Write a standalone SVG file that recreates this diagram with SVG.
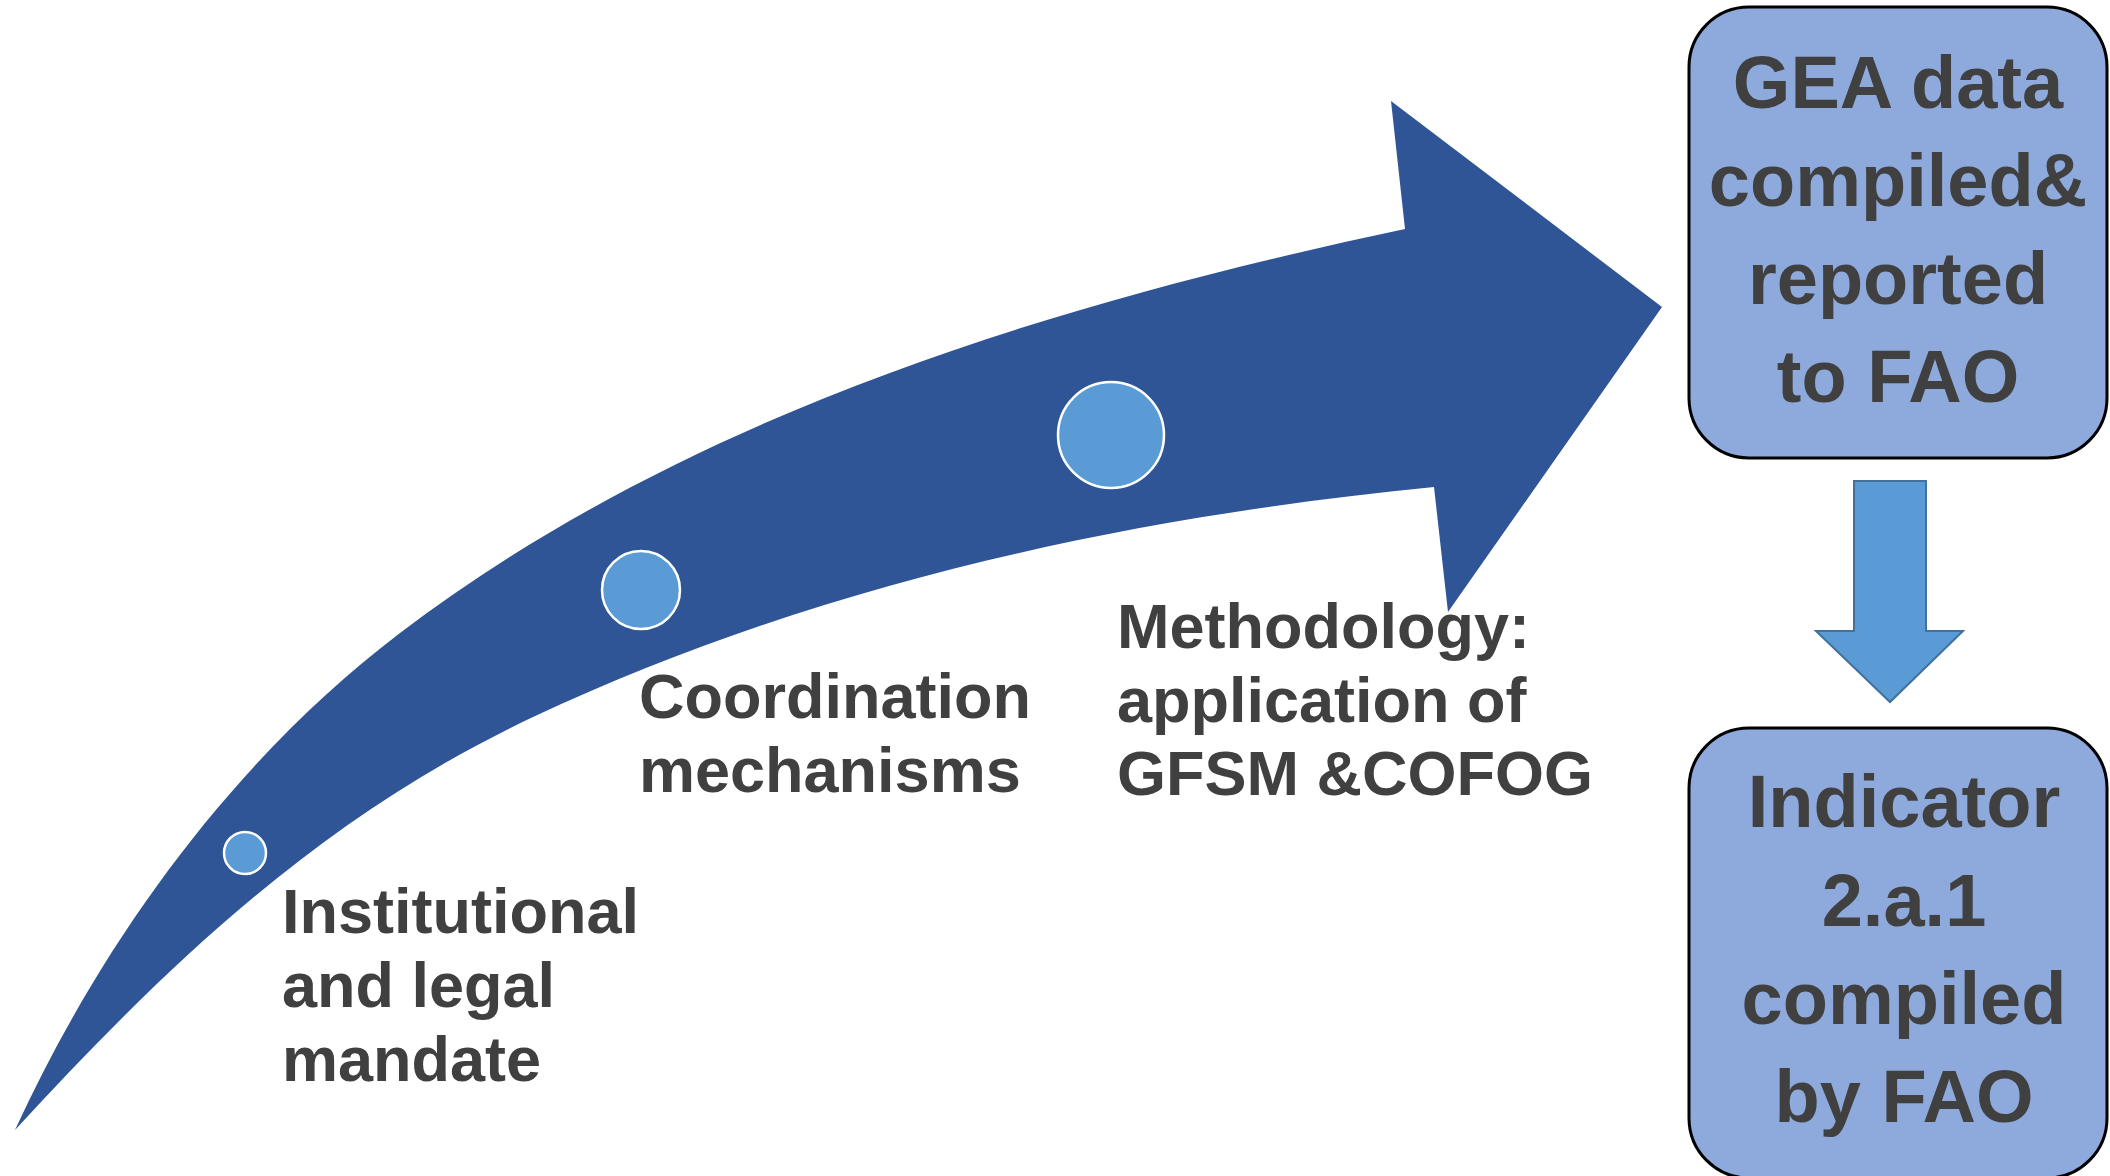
<svg xmlns="http://www.w3.org/2000/svg" width="2110" height="1176" viewBox="0 0 2110 1176">
<style>
.lbl{font-family:"Liberation Sans",Arial,sans-serif;font-weight:bold;fill:#404040;font-size:63px}
.box{fill:#8EA9DB;stroke:#000;stroke-width:3}
.btxt{font-family:"Liberation Sans",Arial,sans-serif;font-weight:bold;fill:#404040;font-size:74px;text-anchor:middle}
.dot{fill:#5B9BD5;stroke:#fff;stroke-width:2.5}
</style>
<rect width="2110" height="1176" fill="#fff"/>
<g id="connectors">
<path id="curved-arrow" fill="#2F5597" d="M15,1130 C103,939 233,760 400,633 C687,415 1052,304 1405,229 L1391,101 L1662,307 L1448,612 L1434,487 C1126,517 814,585 533,717 C334,811 184,946 15,1130 Z"/>
<polygon id="down-arrow" points="1854,481 1926,481 1926,631 1963,631 1890,702 1816,631 1854,631" fill="#5B9BD5" stroke="#41719C" stroke-width="2"/>
</g>
<g id="step1">
<circle class="dot" cx="245" cy="853" r="21"/>
<text class="lbl" x="282" y="933">Institutional</text>
<text class="lbl" x="282" y="1007">and legal</text>
<text class="lbl" x="282" y="1081">mandate</text>
</g>
<g id="step2">
<circle class="dot" cx="641" cy="590" r="39"/>
<text class="lbl" x="639" y="718">Coordination</text>
<text class="lbl" x="639" y="792">mechanisms</text>
</g>
<g id="step3">
<circle class="dot" cx="1111" cy="435" r="53"/>
<text class="lbl" x="1117" y="648">Methodology:</text>
<text class="lbl" x="1117" y="722">application of</text>
<text class="lbl" x="1117" y="795">GFSM &amp;COFOG</text>
</g>
<g id="box-gea">
<rect class="box" x="1689" y="7" width="418" height="451" rx="60" ry="60"/>
<text class="btxt" x="1898" y="108">GEA data</text>
<text class="btxt" x="1898" y="206">compiled&amp;</text>
<text class="btxt" x="1898" y="304">reported</text>
<text class="btxt" x="1898" y="402">to FAO</text>
</g>
<g id="box-indicator">
<rect class="box" x="1689" y="728" width="418" height="450" rx="60" ry="60"/>
<text class="btxt" x="1904" y="827">Indicator</text>
<text class="btxt" x="1904" y="926">2.a.1</text>
<text class="btxt" x="1904" y="1024">compiled</text>
<text class="btxt" x="1904" y="1122">by FAO</text>
</g>
</svg>
